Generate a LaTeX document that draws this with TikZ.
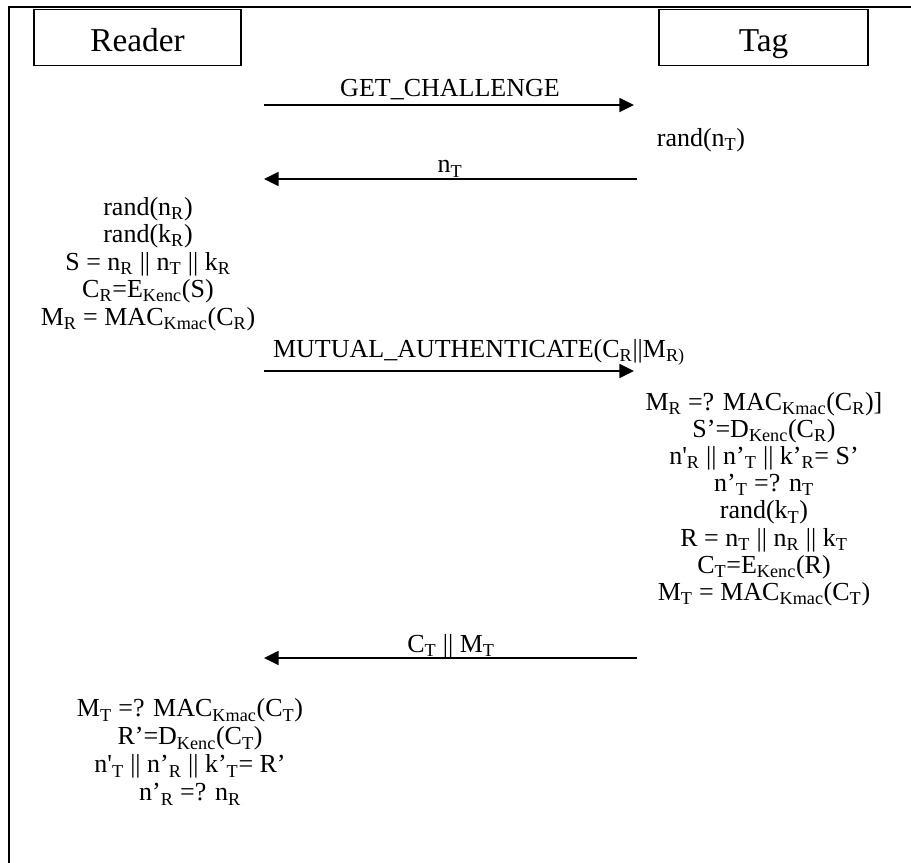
\documentclass[tikz,border=0pt]{standalone}
\usepackage{fontspec}
\setmainfont{Liberation Serif}
\usetikzlibrary{arrows.meta}
\newcommand\sbx[1]{\textsubscript{#1}}
\newcommand\fsz{\fontsize{19.5pt}{20.4pt}\selectfont}
\begin{document}
\begin{tikzpicture}[x=0.75pt,y=-0.75pt,
  frameline/.style={line width=1.5pt},
  actor/.style={draw,line width=1.3pt,minimum height=42pt,
    font=\fontsize{25pt}{26pt}\selectfont,inner sep=0pt,
    text height=21.5pt,text depth=0pt},
  msg/.style={line width=1.35pt,-{Triangle[length=11pt,width=10.5pt]}},
  lbl/.style={font=\fsz,inner sep=0pt,anchor=base},
  calc/.style={font=\fsz,align=center,inner sep=0pt}]
\useasboundingbox (0,0) rectangle (911,863);
% frame
\draw[frameline] (9,863) -- (9,7.5) -- (911,7.5);
% actors
\node[actor,minimum width=155.25pt] (reader) at (137.5,37.5) {Reader};
\node[actor,minimum width=156.75pt] (tag) at (763.5,37.5) {Tag};
% message end points
\coordinate (r1) at (264,105); \coordinate (t1) at (634,105);
\coordinate (t2) at (637,179); \coordinate (r2) at (264,179);
\coordinate (r3) at (264,371); \coordinate (t3) at (634,371);
\coordinate (t4) at (637,658); \coordinate (r4) at (264,658);
\draw[msg] (r1) -- (t1);
\draw[msg] (t2) -- (r2);
\draw[msg] (r3) -- (t3);
\draw[msg] (t4) -- (r4);
% message labels
\node[lbl] (l1) at (450,97) {GET\_CHALLENGE};
\node[lbl] (l2) at (450,173) {n\sbx{T}};
\node[lbl] (l3) at (479,357) {MUTUAL\_AUTHENTICATE(C\sbx{R}||M\sbx{R)}};
\node[lbl] (l4) at (451,652) {C\sbx{T} || M\sbx{T}};
% computations
\node[calc] (tc1) at (701,140) {rand(n\sbx{T})};
\node[calc,font=\fontsize{19.5pt}{20.6pt}\selectfont] (rc1) at (148,264) {rand(n\sbx{R})\\
rand(k\sbx{R})\\
S = n\sbx{R} || n\sbx{T} || k\sbx{R}\\
C\sbx{R}=E\sbx{Kenc}(S)\\
M\sbx{R} = MAC\sbx{Kmac}(C\sbx{R})};
\node[calc] (tc2) at (764,499) {M\sbx{R} =? MAC\sbx{Kmac}(C\sbx{R})]\\
S’=D\sbx{Kenc}(C\sbx{R})\\
n\textquotesingle\sbx{R} || n’\sbx{T} || k’\sbx{R}= S’\\
n’\sbx{T} =? n\sbx{T}\\
rand(k\sbx{T})\\
R = n\sbx{T} || n\sbx{R} || k\sbx{T}\\
C\sbx{T}=E\sbx{Kenc}(R)\\
M\sbx{T} = MAC\sbx{Kmac}(C\sbx{T})};
\node[calc,font=\fontsize{19.5pt}{21pt}\selectfont] (rc2) at (190,752) {M\sbx{T} =? MAC\sbx{Kmac}(C\sbx{T})\\
R’=D\sbx{Kenc}(C\sbx{T})\\
n\textquotesingle\sbx{T} || n’\sbx{R} || k’\sbx{T}= R’\\
n’\sbx{R} =? n\sbx{R}};
\end{tikzpicture}
\end{document}
